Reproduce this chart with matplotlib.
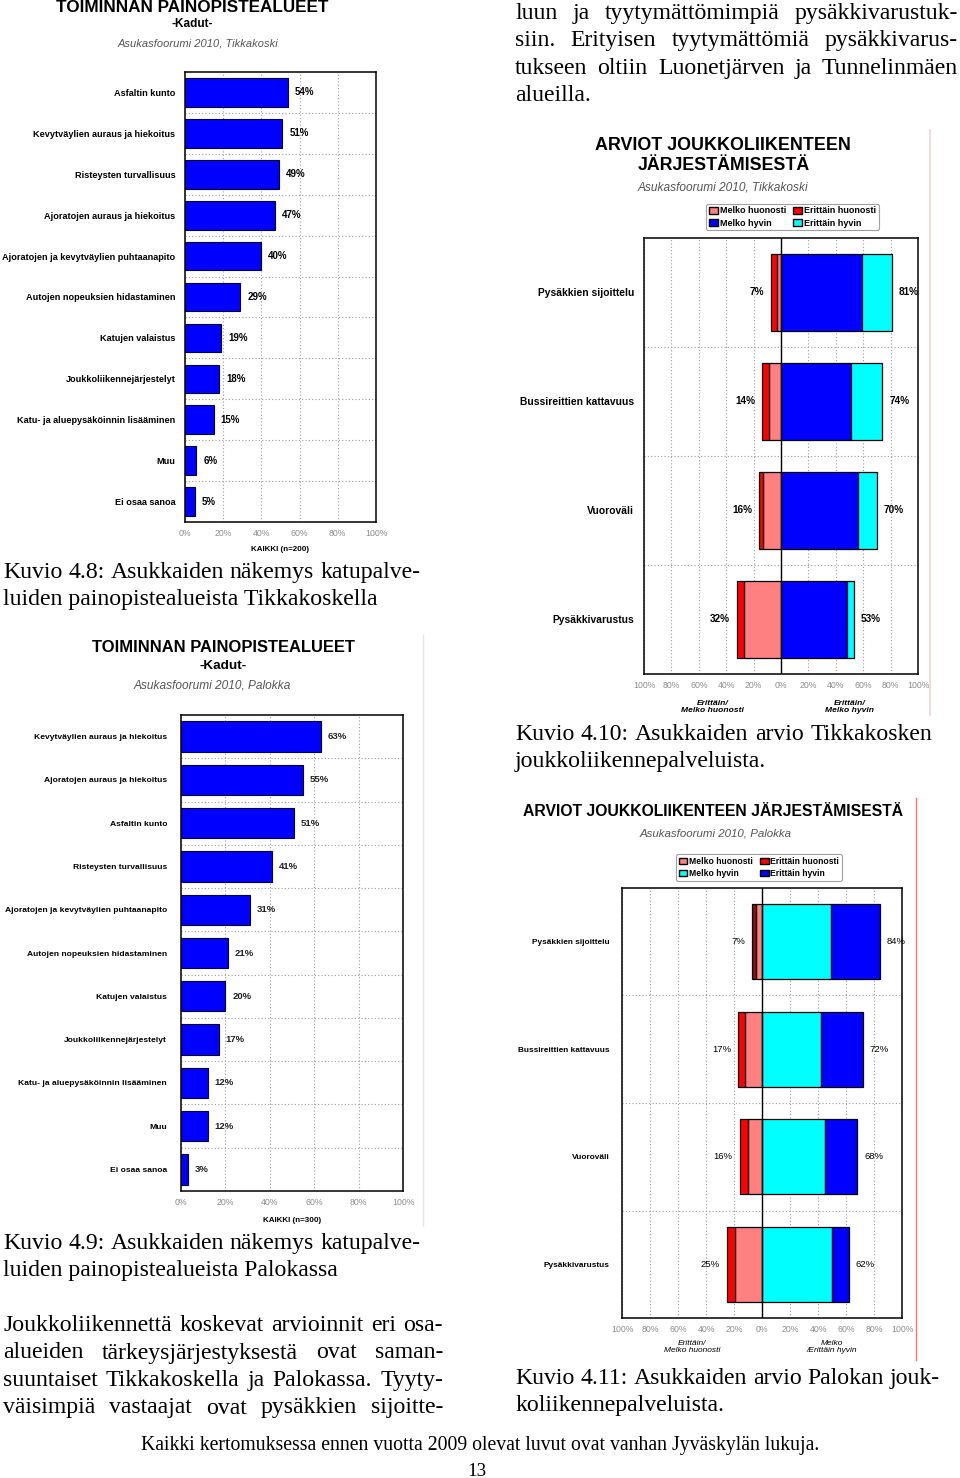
import numpy as np
import matplotlib
matplotlib.use("Agg")
import matplotlib.pyplot as plt
from matplotlib.patches import Patch
from matplotlib.lines import Line2D
import matplotlib.transforms as mtransforms

plt.rcParams["font.family"] = ["Liberation Sans", "DejaVu Sans"]

W, H = 960, 1478
SERIF = ["Liberation Serif", "DejaVu Serif"]

# ─── data ─────────────────────────────────────────────────────────────────────
tik_streets = ["Asfaltin kunto", "Kevytväylien auraus ja hiekoitus", "Risteysten turvallisuus",
               "Ajoratojen auraus ja hiekoitus", "Ajoratojen ja kevytväylien puhtaanapito",
               "Autojen nopeuksien hidastaminen", "Katujen valaistus", "Joukkoliikennejärjestelyt",
               "Katu- ja aluepysäköinnin lisääminen", "Muu", "Ei osaa sanoa"]
tik_street_pct = [54, 51, 49, 47, 40, 29, 19, 18, 15, 6, 5]

pal_streets = ["Kevytväylien auraus ja hiekoitus", "Ajoratojen auraus ja hiekoitus", "Asfaltin kunto",
               "Risteysten turvallisuus", "Ajoratojen ja kevytväylien puhtaanapito",
               "Autojen nopeuksien hidastaminen", "Katujen valaistus", "Joukkoliikennejärjestelyt",
               "Katu- ja aluepysäköinnin lisääminen", "Muu", "Ei osaa sanoa"]
pal_street_pct = [63, 55, 51, 41, 31, 21, 20, 17, 12, 12, 3]

transit_items = ["Pysäkkien sijoittelu", "Bussireittien kattavuus", "Vuoroväli", "Pysäkkivarustus"]

tik_melko_huono = [3, 9, 13, 27]
tik_erit_huono = [4, 5, 3, 5]
tik_melko_hyva = [59, 51, 56, 48]
tik_erit_hyva = [22, 23, 14, 5]
tik_neg_total = [7, 14, 16, 32]
tik_pos_total = [81, 74, 70, 53]

pal_melko_huono = [4, 12, 10, 19]
pal_erit_huono = [3, 5, 6, 6]
pal_melko_hyva = [49, 42, 45, 50]
pal_erit_hyva = [35, 30, 23, 12]
pal_neg_total = [7, 17, 16, 25]
pal_pos_total = [84, 72, 68, 62]

pct_ticks = [0, 20, 40, 60, 80, 100]
div_ticks = [-100, -80, -60, -40, -20, 0, 20, 40, 60, 80, 100]

top_right_lines = ["luun ja tyytymättömimpiä pysäkkivarustuk-",
                   "siin. Erityisen tyytymättömiä pysäkkivarus-",
                   "tukseen oltiin Luonetjärven ja Tunnelinmäen",
                   "alueilla."]
para_lines = ["Joukkoliikennettä koskevat arvioinnit eri osa-",
              "alueiden tärkeysjärjestyksestä ovat saman-",
              "suuntaiset Tikkakoskella ja Palokassa. Tyyty-",
              "väisimpiä vastaajat ovat pysäkkien sijoitte-"]

BLUE, CYAN, RED, PINK = "#0000FF", "#00FFFF", "#FF0000", "#FF8080"
GRIDC = "#9a9a9a"
TICKC = "#8c8c8c"

fig = plt.figure(figsize=(W / 100, H / 100), dpi=100)
fig.patch.set_facecolor("white")
R = fig.canvas.get_renderer()


def fx(x):
    return x / W


def fy(y):
    return 1 - y / H


def ax_at(x0, y0, x1, y1):
    return fig.add_axes([fx(x0), fy(y1), (x1 - x0) / W, (y1 - y0) / H])


def fit_text(x, y, s, width, ha="center", va="center", **kw):
    t = fig.text(fx(x), fy(y), s, ha=ha, va=va, fontsize=10, **kw)
    w = t.get_window_extent(R).width
    t.set_fontsize(10 * width / w)
    return t


def justify(lines, x0, x1, y0, dy, size, last_full=False):
    for i, line in enumerate(lines):
        y = y0 + i * dy
        words = line.split()
        if (i == len(lines) - 1 and not last_full) or len(words) == 1:
            fig.text(fx(x0), fy(y), line, fontsize=size, family=SERIF, va="baseline")
            continue
        arts = [fig.text(0, fy(y), w, fontsize=size, family=SERIF, va="baseline") for w in words]
        widths = [a.get_window_extent(R).width for a in arts]
        gap = (x1 - x0 - sum(widths)) / (len(words) - 1)
        x = x0
        for a, w in zip(arts, widths):
            a.set_x(fx(x))
            x += w + gap


def style_axes(ax, n, xticks, xlabels, cat_labels, cat_size, cat_pad, tick_pad):
    ax.set_ylim(n - 0.5, -0.5)
    ax.set_yticks(range(n), labels=cat_labels, fontsize=cat_size, fontweight="bold")
    ax.set_yticks(np.arange(n - 1) + 0.5, minor=True)
    ax.set_xticks(xticks, labels=xlabels, fontsize=6.3, color=TICKC)
    ax.tick_params(axis="both", which="both", length=0)
    ax.tick_params(axis="y", pad=cat_pad)
    ax.tick_params(axis="x", pad=tick_pad)
    ax.grid(axis="x", which="major", ls=(0, (1, 2)), color=GRIDC, lw=0.8)
    ax.grid(axis="y", which="minor", ls=(0, (1, 2)), color=GRIDC, lw=0.8)
    ax.set_axisbelow(True)
    for sp in ax.spines.values():
        sp.set_linewidth(1.1)


# ─── chart 1: Tikkakoski streets ─────────────────────────────────────────────
fit_text(192, 8, "TOIMINNAN PAINOPISTEALUEET", 271, fontweight="bold")
fit_text(192, 24, "-Kadut-", 41, fontweight="bold")
fit_text(198, 44, "Asukasfoorumi 2010, Tikkakoski", 160, style="italic", color="#555555")

ax1 = ax_at(185, 72, 376, 522)
y1 = np.arange(len(tik_streets))
ax1.barh(y1, tik_street_pct, height=0.7, color=BLUE, edgecolor="#000033", lw=0.8)
ax1.set_xlim(0, 100)
style_axes(ax1, len(tik_streets), pct_ticks, [f"{t}%" for t in pct_ticks],
           tik_streets, 6.6, 7, 5)
for i, v in enumerate(tik_street_pct):
    ax1.annotate(f"{v}%", (v, i), xytext=(5, 0), textcoords="offset points",
                 va="center", fontsize=7, fontweight="bold")
fig.text(fx(280), fy(549), "KAIKKI (n=200)", ha="center", va="center", fontsize=5.8, fontweight="bold")

# ─── chart 3: Palokka streets ────────────────────────────────────────────────
fit_text(223, 648, "TOIMINNAN PAINOPISTEALUEET", 261, fontweight="bold")
fit_text(223, 666, "-Kadut-", 47, fontweight="bold")
fit_text(212, 686, "Asukasfoorumi 2010, Palokka", 158, style="italic", color="#555555")

ax3 = ax_at(181, 715, 403, 1191)
y3 = np.arange(len(pal_streets))
ax3.barh(y3, pal_street_pct, height=0.7, color=BLUE, edgecolor="#000033", lw=0.8)
ax3.set_xlim(0, 100)
style_axes(ax3, len(pal_streets), pct_ticks, [f"{t}%" for t in pct_ticks],
           pal_streets, 6.1, 10, 5)
for i, v in enumerate(pal_street_pct):
    ax3.annotate(f"{v}%", (v, i), xytext=(5, 0), textcoords="offset points",
                 va="center", fontsize=6.8, fontweight="bold", color="#222222")
fig.text(fx(292), fy(1220), "KAIKKI (n=300)", ha="center", va="center", fontsize=5.8, fontweight="bold")


# ─── diverging charts ────────────────────────────────────────────────────────
def diverging(ax, mh, eh, inner, outer, inner_c, outer_c, red_c, neg_tot, pos_tot, lab_size,
              cat_size, cat_pad, val_weight):
    n = len(transit_items)
    y = np.arange(n)
    mh = np.array(mh)
    ax.barh(y, -mh, height=0.7, color=PINK, edgecolor="black", lw=0.9)
    ax.barh(y, -np.array(eh), left=-mh, height=0.7, color=red_c, edgecolor="black", lw=0.9)
    ax.barh(y, inner, height=0.7, color=inner_c, edgecolor="black", lw=0.9)
    ax.barh(y, outer, left=inner, height=0.7, color=outer_c, edgecolor="black", lw=0.9)
    ax.axvline(0, color="black", lw=1.0)
    ax.set_xlim(-100, 100)
    style_axes(ax, n, div_ticks, [f"{abs(t)}%" for t in div_ticks],
               transit_items, cat_size, cat_pad, 5)
    for i in range(n):
        ax.annotate(f"{neg_tot[i]}%", (-neg_tot[i], i), xytext=(-5, 0), textcoords="offset points",
                    ha="right", va="center", fontsize=lab_size, fontweight=val_weight)
        ax.annotate(f"{pos_tot[i]}%", (pos_tot[i], i), xytext=(5, 0), textcoords="offset points",
                    ha="left", va="center", fontsize=lab_size, fontweight=val_weight)


def legend_box(ax, handles, labels, x0, y0, x1, y1, size):
    leg = ax.legend(handles, labels, ncol=2, loc="center",
                    bbox_to_anchor=(fx((x0 + x1) / 2), fy((y0 + y1) / 2)),
                    bbox_transform=fig.transFigure, frameon=True, fancybox=True,
                    handlelength=1.0, handleheight=0.8, handletextpad=0.2, columnspacing=0.8,
                    labelspacing=0.35, borderpad=0.3, prop={"weight": "bold", "size": size})
    leg.get_frame().set_edgecolor("#888888")
    leg.get_frame().set_linewidth(0.8)
    return leg


# chart 2: Tikkakoski transit
fit_text(723, 145, "ARVIOT JOUKKOLIIKENTEEN", 254, fontweight="bold")
fit_text(724, 166, "JÄRJESTÄMISESTÄ", 171, fontweight="bold")
fit_text(723, 187, "Asukasfoorumi 2010, Tikkakoski", 171, style="italic", color="#555555")

ax2 = ax_at(644, 238, 918, 674)
diverging(ax2, tik_melko_huono, tik_erit_huono, tik_melko_hyva, tik_erit_hyva, BLUE, CYAN,
          [RED] * 4, tik_neg_total, tik_pos_total, 7.2, 7.4, 7, "bold")
h = [Patch(fc=PINK, ec="black"), Patch(fc=BLUE, ec="black"),
     Patch(fc=RED, ec="black"), Patch(fc=CYAN, ec="black")]
legend_box(ax2, h, ["Melko huonosti", "Melko hyvin", "Erittäin huonosti", "Erittäin hyvin"],
           706, 203, 879, 231, 6.5)
tr2 = mtransforms.blended_transform_factory(ax2.transData, fig.transFigure)
ax2.text(-50, fy(707), "Erittäin/\nMelko huonosti", transform=tr2, ha="center", va="center",
         fontsize=6.1, fontweight="bold", style="italic", linespacing=1.0)
ax2.text(50, fy(707), "Erittäin/\nMelko hyvin", transform=tr2, ha="center", va="center",
         fontsize=6.1, fontweight="bold", style="italic", linespacing=1.0)

# chart 4: Palokka transit
fit_text(713, 811, "ARVIOT JOUKKOLIIKENTEEN JÄRJESTÄMISESTÄ", 381, fontweight="bold")
fit_text(716, 833, "Asukasfoorumi 2010, Palokka", 152, style="italic", color="#555555")

ax4 = ax_at(622, 888, 902, 1318)
diverging(ax4, pal_melko_huono, pal_erit_huono, pal_melko_hyva, pal_erit_hyva, CYAN, BLUE,
          ["#8B1010", RED, RED, RED], pal_neg_total, pal_pos_total, 6.8, 5.95, 9, "normal")
h = [Patch(fc=PINK, ec="black"), Patch(fc=CYAN, ec="black"),
     Patch(fc=RED, ec="black"), Patch(fc=BLUE, ec="black")]
legend_box(ax4, h, ["Melko huonosti", "Melko hyvin", "Erittäin huonosti", "Erittäin hyvin"],
           677, 855, 841, 880, 6.2)
tr4 = mtransforms.blended_transform_factory(ax4.transData, fig.transFigure)
ax4.text(-50, fy(1347), "Erittäin/\nMelko huonosti", transform=tr4, ha="center", va="center",
         fontsize=6.0, style="italic", linespacing=1.0)
ax4.text(50, fy(1347), "Melko\n/Erittäin hyvin", transform=tr4, ha="center", va="center",
         fontsize=6.0, style="italic", linespacing=1.0)

# faint image borders
fig.add_artist(Line2D([fx(930), fx(930)], [fy(130), fy(715)], color="#f2d6d6", lw=1.2))
fig.add_artist(Line2D([fx(916), fx(916)], [fy(798), fy(1360)], color="#ff7070", lw=1.0))
fig.add_artist(Line2D([fx(423), fx(423)], [fy(635), fy(1226)], color="#e6e6e6", lw=1.0))

# ─── body text ───────────────────────────────────────────────────────────────
probe = fig.text(0, 0, "Kuvio 4.8: Asukkaiden näkemys katupalve-", fontsize=10, family=SERIF)
BODY = 10 * 417 / probe.get_window_extent(R).width
probe.remove()

justify(top_right_lines, 515, 958, 19, 27.3, BODY)
justify(["Kuvio 4.8: Asukkaiden näkemys katupalve-", "luiden painopistealueista Tikkakoskella"],
        3, 420, 578, 27.3, BODY)
justify(["Kuvio 4.10: Asukkaiden arvio Tikkakosken", "joukkoliikennepalveluista."],
        515, 932, 740, 27.3, BODY)
justify(["Kuvio 4.9: Asukkaiden näkemys katupalve-", "luiden painopistealueista Palokassa"],
        3, 420, 1249, 27.3, BODY)
justify(para_lines, 3, 443, 1331, 27.5, BODY, last_full=True)
justify(["Kuvio 4.11: Asukkaiden arvio Palokan jouk-", "koliikennepalveluista."],
        515, 940, 1384, 27.3, BODY)

fit_text(480, 1450, "Kaikki kertomuksessa ennen vuotta 2009 olevat luvut ovat vanhan Jyväskylän lukuja.",
         679, va="baseline", family=SERIF)
fig.text(fx(477), fy(1476), "13", ha="center", va="baseline", fontsize=BODY * 0.8, family=SERIF)

fig.savefig("out.png", dpi=100)
